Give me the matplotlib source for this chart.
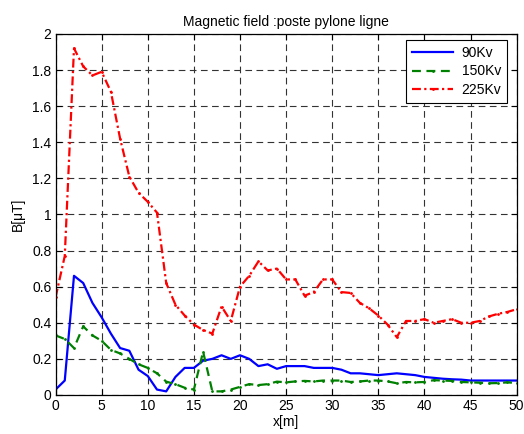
import numpy as np
import matplotlib
matplotlib.use("Agg")
import matplotlib.pyplot as plt

plt.rcParams['font.family'] = ['Liberation Sans', 'DejaVu Sans']

x = list(range(0, 51))

b_90kv = [0.03, 0.08, 0.66, 0.62, 0.51, 0.43, 0.34, 0.26, 0.245, 0.14,
          0.105, 0.03, 0.02, 0.10, 0.15, 0.15, 0.19, 0.20, 0.22, 0.20,
          0.22, 0.20, 0.16, 0.17, 0.145, 0.16, 0.16, 0.16, 0.15, 0.15,
          0.15, 0.14, 0.12, 0.12, 0.115, 0.11, 0.115, 0.12, 0.115, 0.11,
          0.10, 0.095, 0.09, 0.087, 0.085, 0.08, 0.08, 0.08, 0.08, 0.08,
          0.08]

b_150kv = [0.33, 0.31, 0.26, 0.38, 0.33, 0.30, 0.25, 0.23, 0.20, 0.17,
           0.15, 0.12, 0.074, 0.06, 0.04, 0.03, 0.24, 0.02, 0.02, 0.03,
           0.045, 0.06, 0.055, 0.06, 0.074, 0.07, 0.075, 0.078, 0.075, 0.08,
           0.08, 0.08, 0.072, 0.075, 0.08, 0.08, 0.075, 0.065, 0.072, 0.07,
           0.072, 0.082, 0.08, 0.078, 0.072, 0.07, 0.068, 0.065, 0.066, 0.07,
           0.066]

b_225kv = [0.54, 0.77, 1.92, 1.82, 1.77, 1.79, 1.68, 1.42, 1.21, 1.12,
           1.07, 1.01, 0.62, 0.50, 0.44, 0.39, 0.36, 0.34, 0.49, 0.41,
           0.60, 0.66, 0.74, 0.69, 0.70, 0.64, 0.64, 0.55, 0.57, 0.64,
           0.64, 0.57, 0.565, 0.51, 0.48, 0.44, 0.39, 0.32, 0.41, 0.41,
           0.42, 0.40, 0.41, 0.42, 0.40, 0.40, 0.41, 0.435, 0.45, 0.46,
           0.475]

x_ticks = list(range(0, 51, 5))
y_ticks = [0, 0.2, 0.4, 0.6, 0.8, 1, 1.2, 1.4, 1.6, 1.8, 2]
y_tick_labels = ['0', '0.2', '0.4', '0.6', '0.8', '1', '1.2', '1.4', '1.6', '1.8', '2']

fig = plt.figure(figsize=(5.24, 4.34), dpi=100)
ax = fig.add_axes([0.106, 0.0899, 0.880, 0.832])

ax.plot(x, b_90kv, color='#0000ff', linestyle='-', linewidth=1.6, label='90Kv')
ax.plot(x, b_150kv, color='#008000', linestyle=(0, (4, 2.5)), linewidth=1.6,
        marker='.', markersize=2, label='150Kv')
ax.plot(x, b_225kv, color='#ff0000', linestyle=(0, (4, 1.5, 1, 1.5)), linewidth=1.6,
        marker='.', markersize=2, label='225Kv')

ax.set_xlim(0, 50)
ax.set_ylim(0, 2)
ax.set_xticks(x_ticks)
ax.set_yticks(y_ticks)
ax.set_yticklabels(y_tick_labels)
ax.tick_params(direction='in', top=True, right=True, labelsize=10, length=4, width=0.8, pad=3)

ax.grid(True, color='#333333', linestyle=(0, (6, 4)), linewidth=0.8)
for s in ax.spines.values():
    s.set_linewidth(0.9)

ax.set_title('Magnetic field :poste pylone ligne', fontsize=10, pad=6)
ax.set_xlabel('x[m]', fontsize=10, labelpad=1)
ax.set_ylabel('B[μT]', fontsize=10, labelpad=5)

leg = ax.legend(loc='upper right', fontsize=10, fancybox=False, framealpha=1,
                edgecolor='black', borderpad=0.4, handlelength=3.0,
                handletextpad=0.6, labelspacing=0.35, borderaxespad=0,
                bbox_to_anchor=(0.979, 0.983))
leg.get_frame().set_linewidth(0.8)

fig.savefig('out.png', dpi=100)
